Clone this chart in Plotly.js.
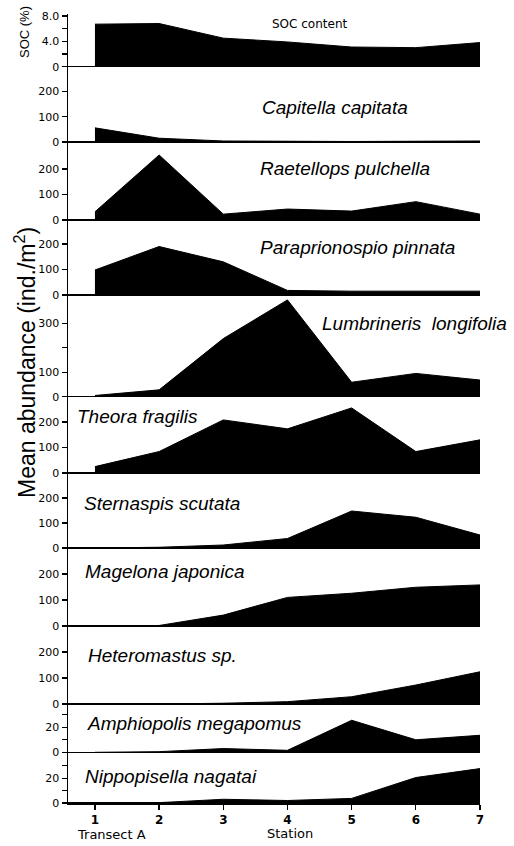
<!DOCTYPE html>
<html>
<head>
<meta charset="utf-8">
<script src="https://cdn.plot.ly/plotly-3.0.1.min.js"></script>
<style>html,body{margin:0;padding:0;background:#fff;}#chart{width:514px;height:846px;}</style>
</head>
<body>
<div id="chart"></div>
<script>
// ---- data ----
const stations = [1, 2, 3, 4, 5, 6, 7];
const stationLabels = ["1", "2", "3", "4", "5", "6", "7"];
const soc          = [6.7, 6.8, 4.5, 3.9, 3.1, 3.0, 3.8];
const capitella    = [56, 15, 4, 2, 2, 3, 4];
const raetellops   = [32, 255, 23, 43, 35, 72, 23];
const paraprionospio = [98, 190, 130, 18, 15, 15, 15];
const lumbrineris  = [5, 28, 237, 395, 59, 95, 68];
const theora       = [25, 84, 208, 173, 255, 84, 130];
const sternaspis   = [0, 3, 12, 38, 148, 123, 52];
const magelona     = [0, 2, 42, 110, 126, 149, 158];
const heteromastus = [0, 0, 3, 9, 28, 73, 124];
const amphiopolis  = [0, 0.5, 3, 1.6, 25.6, 10, 13.6];
const nippopisella = [0, 0.3, 3, 2, 3.7, 20.5, 27.7];

const panelNames = ["SOC content", "Capitella capitata", "Raetellops pulchella",
  "Paraprionospio pinnata", "Lumbrineris  longifolia", "Theora fragilis",
  "Sternaspis scutata", "Magelona japonica", "Heteromastus sp.",
  "Amphiopolis megapomus", "Nippopisella nagatai"];
const series = [soc, capitella, raetellops, paraprionospio, lumbrineris, theora,
  sternaspis, magelona, heteromastus, amphiopolis, nippopisella];

// ---- layout geometry ----
const W = 514, H = 846;
const L = 68, R = 480, T = 14, B = 803;
const px2x = px => (px - L) / (R - L);
const px2y = py => (B - py) / (B - T);

// panel pixel bounds (top, bottom)
const panelPx = [[14, 66.7], [66.7, 142], [142, 220], [220, 295], [295, 396.7],
  [396.7, 473], [473, 548], [548, 626], [626, 704], [704, 752.3], [752.3, 803]];
const yMax = [8.3, 298, 306, 294, 415, 299, 300, 300, 300, 38.6, 40.8];
const tickSets = [
  {v: [0, 4, 8], t: ["0", "4.0", "8.0"], m: [2, 6]},
  {v: [0, 100, 200], t: ["0", "100", "200"], m: []},
  {v: [0, 100, 200], t: ["0", "100", "200"], m: []},
  {v: [0, 100, 200], t: ["0", "100", "200"], m: []},
  {v: [0, 100, 300], t: ["0", "100", "300"], m: [200]},
  {v: [0, 100, 200], t: ["0", "100", "200"], m: []},
  {v: [0, 100, 200], t: ["0", "100", "200"], m: []},
  {v: [0, 100, 200], t: ["0", "100", "200"], m: []},
  {v: [0, 100, 200], t: ["0", "100", "200"], m: []},
  {v: [0, 20], t: ["0", "20"], m: [10, 30]},
  {v: [0, 20], t: ["0", "20"], m: [10, 30]}
];

// label positions (left px, center py)
const labelPos = [[270, 24], [260, 107], [258, 168], [258, 247], [320, 323], [75, 416],
  [82, 503], [83, 571], [86, 655], [85, 723], [83, 776]];

const traces = [];
const layout = {
  width: W, height: H,
  margin: {l: L, r: W - R, t: T, b: H - B, pad: 0},
  paper_bgcolor: "#fff", plot_bgcolor: "#fff",
  showlegend: false,
  font: {family: "DejaVu Sans, Liberation Sans, Arial, sans-serif", color: "#000", size: 11},
  xaxis: {
    domain: [0, 1], anchor: "y11", range: [0.58, 7.0],
    tickvals: stations, ticktext: stationLabels,
    ticks: "outside", ticklen: 5, tickwidth: 1.3, tickcolor: "#000",
    showline: true, linecolor: "#000", linewidth: 1.5,
    showgrid: false, zeroline: false,
    tickfont: {family: "DejaVu Sans, Arial, sans-serif", size: 12, weight: "bold", color: "#000"}
  },
  annotations: []
};

series.forEach((vals, i) => {
  const yn = i === 0 ? "y" : "y" + (i + 1);
  const yk = i === 0 ? "yaxis" : "yaxis" + (i + 1);
  traces.push({
    x: stations, y: vals, xaxis: "x", yaxis: yn,
    type: "scatter", mode: "lines", fill: "tozeroy",
    fillcolor: "#000", line: {color: "#000", width: 1},
    hoverinfo: "skip"
  });
  const ax = {
    domain: [px2y(panelPx[i][1]), px2y(panelPx[i][0])],
    anchor: "x", range: [0, yMax[i]],
    tickmode: "array", tickvals: tickSets[i].v, ticktext: tickSets[i].t,
    ticks: "outside", ticklen: 5, tickwidth: 1.2, tickcolor: "#000",
    showline: true, linecolor: "#000", linewidth: 1.5,
    showgrid: false, zeroline: true, zerolinecolor: "#000", zerolinewidth: 1.5,
    tickfont: {family: "DejaVu Sans, Arial, sans-serif", size: 11, color: "#000"},
    fixedrange: true
  };
  if (tickSets[i].m.length) {
    ax.minor = {tickmode: "array", tickvals: tickSets[i].m, ticks: "outside",
      ticklen: 5, tickwidth: 1.2, tickcolor: "#000", showgrid: false};
  }
  layout[yk] = ax;
  const isSoc = i === 0;
  layout.annotations.push({
    text: panelNames[i], xref: "paper", yref: "paper",
    x: px2x(labelPos[i][0]), y: px2y(labelPos[i][1]),
    xanchor: "left", yanchor: "middle", showarrow: false,
    font: isSoc ? {family: "DejaVu Sans, Arial, sans-serif", size: 12, color: "#000"}
                : {family: "Liberation Sans, Arial, sans-serif", size: 19, style: "italic", color: "#000"}
  });
});

// axis titles and bottom labels
layout.annotations.push({
  text: "SOC (%)", xref: "paper", yref: "paper",
  x: px2x(25), y: px2y(32), textangle: -90, showarrow: false,
  xanchor: "center", yanchor: "middle",
  font: {family: "Liberation Sans, Arial, sans-serif", size: 13, color: "#000"}
});
layout.annotations.push({
  text: "Mean abundance (ind./m<sup>2</sup>)", xref: "paper", yref: "paper",
  x: px2x(25), y: px2y(363), textangle: -90, showarrow: false,
  xanchor: "center", yanchor: "middle",
  font: {family: "Liberation Sans, Arial, sans-serif", size: 23, color: "#000"}
});
layout.annotations.push({
  text: "Transect A", xref: "paper", yref: "paper",
  x: px2x(75), y: px2y(834), xanchor: "left", yanchor: "middle", showarrow: false,
  font: {family: "DejaVu Sans, Arial, sans-serif", size: 13, color: "#000"}
});
layout.annotations.push({
  text: "Station", xref: "paper", yref: "paper",
  x: px2x(290), y: px2y(833), xanchor: "center", yanchor: "middle", showarrow: false,
  font: {family: "DejaVu Sans, Arial, sans-serif", size: 13, color: "#000"}
});

Plotly.newPlot("chart", traces, layout, {staticPlot: true, displayModeBar: false});
</script>
</body>
</html>
